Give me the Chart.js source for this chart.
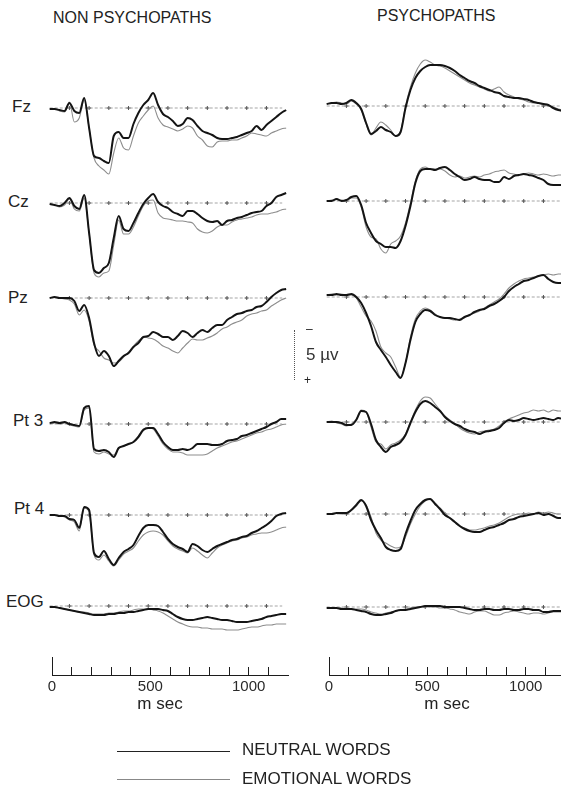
<!DOCTYPE html>
<html>
<head>
<meta charset="utf-8">
<title>ERPs to neutral and emotional words</title>
<script src="https://cdn.jsdelivr.net/npm/chart.js@4.4.1/dist/chart.umd.min.js"></script>
<style>
  html, body { margin: 0; padding: 0; background: #fff; }
  body {
    position: relative; width: 561px; height: 789px; overflow: hidden;
    font-family: "Liberation Sans", Arial, sans-serif; color: #222;
  }
  canvas { position: absolute; }
  .txt { position: absolute; white-space: nowrap; line-height: 20px; height: 20px; }
  .key { position: absolute; left: 117px; width: 113px; height: 0; }
</style>
</head>
<body>

<script>
// time axis (ms after word onset)
const timeMs = [0,25,50,75,100,125,150,175,200,225,250,275,300,325,350,375,400,425,450,475,
  500,525,550,575,600,625,650,675,700,725,750,775,800,825,850,875,900,925,950,975,
  1000,1025,1050,1075,1100,1125,1150,1175,1200];

const channelNames = ['Fz', 'Cz', 'Pz', 'Pt 3', 'Pt 4', 'EOG'];
const groupTitles = ['NON PSYCHOPATHS', 'PSYCHOPATHS'];
const seriesNames = ['NEUTRAL WORDS', 'EMOTIONAL WORDS'];
const baselineMarksMs = [100,200,300,400,500,600,700,800,900,1000,1100];
const axisLabelsMs = [0, 500, 1000];

// microvolts, negative up
const nonFzNeutral = [0.1,0.1,0.2,0.3,-0.5,0.3,0.5,-1.0,2.0,4.8, 5.0,5.3,5.5,2.8,2.4,3.0,3.0,1.6,0.5,-0.3,
  -0.8,-1.5,-0.3,0.6,0.9,1.3,1.8,1.6,1.0,1.2, 1.8,2.3,2.5,2.7,3.0,3.1,3.1,3.0,2.9,2.7, 2.5,2.3,1.8,2.2,1.7,1.3,0.9,0.5,0.2];
const nonFzEmotional = [0.1,0.1,0.3,0.4,-0.6,1.4,1.0,-0.8,2.0,5.0, 5.8,6.2,6.6,4.5,3.0,4.0,4.2,2.8,1.5,0.8,
  0.2,-0.2,1.0,1.7,1.9,2.1,2.3,2.1,1.8,2.0, 2.8,3.2,3.8,3.9,3.4,3.3,3.3,3.2,3.2,3.0, 2.8,2.5,2.6,2.7,2.8,2.5,2.3,2.1,2.0];
const nonCzNeutral = [0.1,0.2,0.3,0.0,-0.5,0.3,0.6,-0.8,3.0,6.7, 7.0,6.5,6.0,3.5,1.3,2.6,2.8,2.0,1.0,0.1,
  -0.5,-0.9,-0.1,0.3,0.5,0.9,1.1,1.3,0.8,0.8, 1.1,1.5,1.8,1.9,1.8,2.2,1.8,1.7,1.5,1.4, 1.2,1.0,0.9,0.8,0.3,0.0,-0.6,-0.8,-1.0];
const nonCzEmotional = [0.1,0.2,0.4,0.2,-0.4,0.6,0.8,-0.5,3.0,7.0, 7.4,7.0,6.8,4.2,1.7,3.1,3.1,2.4,1.3,0.3,
  -0.2,-0.3,1.0,1.5,1.6,1.7,1.8,1.8,1.9,2.0, 2.6,2.9,3.0,2.8,2.4,2.2,2.2,1.9,1.7,1.6, 1.5,1.4,1.2,1.1,1.1,1.0,0.9,0.7,0.6];
const nonPzNeutral = [0.0,-0.1,0.0,0.0,0.0,0.3,1.3,0.7,2.0,4.5, 5.8,5.3,5.8,6.8,6.3,5.8,5.5,4.9,4.5,3.9,
  3.8,3.4,3.6,3.9,3.9,4.2,3.8,3.3,3.5,3.9, 3.5,3.2,3.4,3.0,2.7,2.7,2.2,1.9,1.6,1.5, 1.3,1.2,0.9,0.8,0.4,-0.1,-0.5,-0.8,-0.9];
const nonPzEmotional = [0.0,-0.1,0.0,0.1,0.2,0.6,1.7,1.2,2.3,4.7, 5.3,6.0,6.2,6.5,6.4,5.9,5.4,4.8,4.3,3.9,
  4.0,4.1,4.4,4.8,5.0,5.3,5.5,5.0,4.5,4.1, 4.2,4.2,4.0,3.8,3.5,3.1,2.9,2.6,2.4,2.2, 1.8,1.6,1.5,1.3,1.2,0.8,0.5,0.2,0.0];
const nonPt3Neutral = [-0.1,-0.2,-0.1,-0.2,0.0,0.1,0.2,-1.6,-1.8,2.5, 2.7,2.6,2.8,3.3,2.4,2.2,2.0,1.8,1.3,0.6,
  0.4,0.4,1.0,1.8,2.3,2.6,2.6,2.5,2.6,2.4, 2.0,2.0,2.0,2.1,2.1,2.0,1.7,1.6,1.5,1.2, 1.1,0.9,0.7,0.5,0.3,0.0,-0.2,-0.5,-0.5];
const nonPt3Emotional = [0.0,-0.1,0.0,-0.1,0.1,0.2,0.3,-1.4,-1.6,2.8, 3.0,2.8,3.0,3.1,2.4,2.2,2.0,1.8,1.2,0.5,
  0.4,0.5,1.2,2.0,2.5,2.8,2.8,2.9,3.1,3.1, 3.1,3.1,3.0,2.7,2.4,2.2,2.0,1.8,1.7,1.5, 1.3,1.1,0.9,0.8,0.6,0.5,0.3,0.1,0.0];
const nonPt4Neutral = [0.0,0.0,0.1,0.1,0.4,0.5,1.3,-0.8,-0.5,3.8, 4.2,3.6,4.4,5.0,4.3,3.7,3.4,3.0,2.1,1.3,
  1.0,1.0,1.1,1.7,2.4,2.9,3.2,3.4,3.7,2.9, 3.1,3.5,3.7,3.4,3.1,2.9,2.7,2.5,2.4,2.2, 2.1,1.8,1.6,1.3,1.0,0.6,0.1,-0.1,-0.2];
const nonPt4Emotional = [0.0,0.0,0.1,0.2,0.5,0.7,1.6,-0.7,-0.3,4.0, 4.5,4.0,4.6,5.1,4.5,3.9,3.6,3.3,2.6,2.0,
  1.7,1.6,1.7,2.0,2.6,3.1,3.4,3.6,3.8,3.3, 3.6,4.0,4.3,3.8,3.3,3.0,2.8,2.6,2.5,2.3, 2.2,2.0,1.9,1.8,1.8,1.7,1.5,1.3,1.2];
const nonEogNeutral = [0.1,0.1,0.2,0.3,0.4,0.5,0.6,0.7,0.8,0.9, 0.9,0.9,0.8,0.8,0.7,0.7,0.6,0.6,0.5,0.4,
  0.3,0.3,0.3,0.4,0.5,0.8,1.1,1.3,1.4,1.4, 1.3,1.2,1.1,1.2,1.3,1.4,1.4,1.5,1.6,1.6, 1.6,1.5,1.4,1.3,1.1,1.0,0.9,0.8,0.8];
const nonEogEmotional = [0.1,0.1,0.2,0.3,0.4,0.5,0.6,0.6,0.7,0.8, 0.8,0.8,0.7,0.7,0.6,0.5,0.5,0.4,0.3,0.3,
  0.3,0.4,0.5,0.7,1.0,1.3,1.6,1.8,2.0,2.1, 2.1,2.2,2.2,2.3,2.3,2.3,2.4,2.4,2.4,2.3, 2.2,2.1,2.1,2.0,1.9,1.9,1.8,1.8,1.8];

const psyFzNeutral = [-0.2,-0.3,-0.3,-0.2,-0.3,-0.6,-0.3,0.3,1.7,2.8, 2.5,2.1,2.4,2.6,3.0,2.6,0.2,-1.6,-2.8,-3.5,
  -3.9,-4.1,-4.1,-4.1,-4.0,-3.8,-3.5,-3.1,-2.8,-2.5, -2.3,-2.0,-1.8,-1.6,-1.4,-1.3,-1.0,-0.9,-0.8,-0.8, -0.7,-0.6,-0.4,-0.3,-0.2,-0.1,0.2,0.4,0.5];
const psyFzEmotional = [-0.2,-0.3,-0.4,-0.3,-0.2,-0.5,-0.2,0.4,1.8,2.9, 2.2,1.6,1.9,2.4,3.0,2.5,0.0,-1.9,-3.3,-4.2,
  -4.6,-4.4,-4.1,-4.0,-3.8,-3.5,-3.2,-2.9,-2.6,-2.3, -2.1,-1.9,-1.7,-1.5,-1.7,-1.9,-1.4,-1.1,-0.9,-0.7, -0.6,-0.4,-0.3,-0.3,-0.1,0.0,0.1,0.3,0.4];
const psyCzNeutral = [0.0,0.0,-0.2,0.0,-0.1,-0.4,-0.5,0.4,2.2,3.2, 4.0,4.3,4.6,4.6,4.7,4.0,2.5,0.5,-1.8,-3.0,
  -3.2,-3.2,-3.1,-3.3,-3.4,-3.1,-2.7,-2.4,-2.1,-2.2, -2.4,-2.2,-2.1,-2.1,-1.9,-1.9,-2.4,-2.2,-2.5,-2.6, -2.7,-2.6,-2.5,-2.3,-2.1,-1.7,-1.6,-1.6,-1.6];
const psyCzEmotional = [0.0,-0.1,-0.2,-0.1,0.0,-0.3,-0.3,0.6,2.6,3.6, 3.8,4.8,5.2,4.3,4.0,3.5,2.2,0.2,-2.0,-3.2,
  -3.4,-3.2,-3.2,-3.2,-3.0,-2.6,-2.4,-2.5,-2.3,-2.4, -2.5,-2.4,-2.6,-2.7,-2.9,-3.0,-3.1,-2.8,-2.7,-2.6, -2.7,-2.8,-2.7,-2.6,-2.7,-2.6,-2.5,-2.6,-2.6];
const psyPzNeutral = [-0.2,-0.2,-0.3,-0.2,-0.2,-0.3,0.0,0.6,1.6,2.9, 4.5,5.3,6.0,6.8,7.5,8.1,6.6,4.3,2.5,1.7,
  1.3,1.4,1.8,2.0,2.1,2.1,2.2,2.3,2.0,1.8, 1.5,1.3,1.2,0.9,0.7,0.4,0.0,-0.6,-1.0,-1.3, -1.6,-1.7,-1.9,-2.1,-2.2,-1.8,-1.5,-1.4,-1.4];
const psyPzEmotional = [-0.2,-0.3,-0.2,-0.3,-0.2,-0.2,0.1,1.0,1.9,2.4, 3.4,5.0,5.6,6.0,7.0,8.0,6.6,4.0,2.2,1.4,
  1.1,1.3,1.7,2.0,2.1,2.2,2.3,2.2,2.0,1.8, 1.6,1.4,1.1,0.8,0.5,0.2,-0.3,-0.9,-1.3,-1.6, -1.8,-1.9,-2.0,-2.1,-2.2,-2.3,-2.2,-2.3,-2.3];
const psyPt3Neutral = [0.0,0.0,0.0,0.1,0.3,0.3,-0.2,-1.1,-1.0,0.2, 1.8,2.5,3.0,2.5,2.3,2.0,1.3,0.1,-1.0,-1.8,
  -2.1,-1.9,-1.5,-1.1,-0.5,-0.1,0.2,0.4,0.7,0.9, 1.0,1.2,1.0,0.9,0.8,0.6,0.1,-0.2,-0.1,-0.2, -0.4,-0.3,-0.2,-0.3,-0.4,-0.3,-0.2,-0.4,-0.3];
const psyPt3Emotional = [0.0,-0.1,0.1,0.2,0.4,0.2,-0.3,-1.2,-1.0,0.5, 2.0,2.2,2.7,2.3,2.1,1.8,1.2,0.0,-1.2,-2.1,
  -2.5,-2.4,-1.8,-1.2,-0.6,-0.2,0.2,0.6,0.9,1.1, 1.2,1.0,0.9,0.8,0.7,0.4,0.0,-0.3,-0.5,-0.7, -0.9,-1.0,-1.2,-1.1,-1.2,-1.0,-1.2,-1.1,-1.1];
const psyPt4Neutral = [0.0,0.0,-0.1,-0.1,-0.1,-0.4,-0.9,-1.4,-0.8,0.6, 1.6,2.4,3.3,3.6,3.7,3.5,2.0,0.7,-0.4,-1.0,
  -1.4,-1.5,-1.0,-0.5,0.1,0.4,0.8,1.2,1.5,1.7, 1.8,1.8,1.6,1.4,1.3,1.1,0.9,0.6,0.5,0.3, 0.2,0.1,0.0,-0.1,0.1,0.0,0.2,0.4,0.4];
const psyPt4Emotional = [0.0,0.0,-0.1,0.0,-0.1,-0.4,-0.8,-1.3,-0.9,0.3, 1.9,2.6,2.9,3.2,3.4,3.3,2.3,1.0,0.0,-0.8,
  -1.3,-1.5,-1.1,-0.6,-0.1,0.4,0.8,1.2,1.4,1.6, 1.6,1.5,1.4,1.2,1.1,0.9,0.6,0.3,0.1,0.0, 0.0,-0.1,0.0,-0.2,-0.1,-0.2,-0.1,0.0,0.0];
const psyEogNeutral = [0.1,0.1,0.1,0.2,0.2,0.2,0.3,0.4,0.5,0.7, 0.8,0.8,0.7,0.6,0.4,0.3,0.3,0.2,0.1,0.0,
  -0.1,-0.1,-0.1,-0.1,0.0,0.0,0.0,0.0,0.1,0.2, 0.3,0.3,0.2,0.2,0.3,0.3,0.2,0.2,0.3,0.3, 0.2,0.2,0.3,0.3,0.5,0.5,0.4,0.4,0.4];
const psyEogEmotional = [0.1,0.1,0.1,0.1,0.2,0.2,0.2,0.2,0.3,0.5, 0.6,0.7,0.6,0.5,0.4,0.3,0.2,0.1,0.0,0.0,
  -0.1,0.0,0.0,0.1,0.1,0.2,0.3,0.5,0.6,0.7, 0.5,0.4,0.4,0.6,0.8,0.8,0.6,0.5,0.4,0.5, 0.6,0.7,0.6,0.6,0.7,0.6,0.5,0.5,0.5];

// ---- layout ----
const PX_PER_MS = 0.197;
const X_MIN = -100, X_MAX = 1250;
const Y_TOP = -7, Y_BOTTOM = 9;     // 10 px per microvolt
const INK = '#1c1c1c';

const groups = [
  {
    zeroX: 50, baseY: [108, 203, 298, 424, 515, 606], lineEnd: 1180, axisZeroX: 52, mSecX: 160,
    rows: [[nonFzNeutral, nonFzEmotional], [nonCzNeutral, nonCzEmotional], [nonPzNeutral, nonPzEmotional],
           [nonPt3Neutral, nonPt3Emotional], [nonPt4Neutral, nonPt4Emotional], [nonEogNeutral, nonEogEmotional]]
  },
  {
    zeroX: 327, baseY: [106, 201, 297, 422, 514, 607], lineEnd: 1250, axisZeroX: 329, mSecX: 447,
    rows: [[psyFzNeutral, psyFzEmotional], [psyCzNeutral, psyCzEmotional], [psyPzNeutral, psyPzEmotional],
           [psyPt3Neutral, psyPt3Emotional], [psyPt4Neutral, psyPt4Emotional], [psyEogNeutral, psyEogEmotional]]
  }
];

Chart.defaults.font.family = '"Liberation Sans", Arial, sans-serif';
Chart.defaults.color = '#333';

function addCanvas(left, top, w, h) {
  const c = document.createElement('canvas');
  c.width = w; c.height = h;
  c.style.left = left + 'px'; c.style.top = top + 'px';
  document.body.appendChild(c);
  return c;
}

function addText(text, left, centerY, size, extra) {
  const d = document.createElement('div');
  d.className = 'txt';
  d.textContent = text;
  d.style.left = left + 'px';
  d.style.top = (centerY - 10) + 'px';
  d.style.fontSize = size + 'px';
  if (extra) Object.assign(d.style, extra);
  document.body.appendChild(d);
  return d;
}

function toPoints(values) {
  return timeMs.map((t, i) => ({ x: t, y: values[i] }));
}

function drawPanel(group, rowIdx) {
  const [neutral, emotional] = group.rows[rowIdx];
  const w = Math.round((X_MAX - X_MIN) * PX_PER_MS);
  const h = (Y_BOTTOM - Y_TOP) * 10;
  const left = Math.round(group.zeroX + X_MIN * PX_PER_MS);
  const top = group.baseY[rowIdx] + Y_TOP * 10;
  const canvas = addCanvas(left, top, w, h);

  const baseline = [{ x: 0, y: 0 }].concat(baselineMarksMs.map(t => ({ x: t, y: 0 })), [{ x: group.lineEnd, y: 0 }]);

  new Chart(canvas, {
    type: 'line',
    data: {
      datasets: [
        { label: seriesNames[0], data: toPoints(neutral), borderColor: '#141414', borderWidth: 2,
          pointRadius: 0, cubicInterpolationMode: 'monotone' },
        { label: seriesNames[1], data: toPoints(emotional), borderColor: '#8d8d8d', borderWidth: 1.1,
          pointRadius: 0, cubicInterpolationMode: 'monotone' },
        { label: 'baseline', data: baseline, borderColor: '#a5a5a5', borderWidth: 1, borderDash: [3, 2],
          pointStyle: 'cross', pointBorderColor: '#555', pointBorderWidth: 1,
          pointRadius: ctx => (ctx.raw && baselineMarksMs.includes(ctx.raw.x)) ? 2 : 0 }
      ]
    },
    options: {
      responsive: false, animation: false, events: [],
      layout: { padding: 0 },
      plugins: { legend: { display: false }, tooltip: { enabled: false } },
      scales: {
        x: { type: 'linear', display: false, min: X_MIN, max: X_MAX },
        y: { display: false, min: Y_TOP, max: Y_BOTTOM, reverse: true }
      }
    }
  });
}

function drawTimeAxis(group) {
  const padL = 20, padR = 10;
  const axisMax = 1200;
  const areaW = Math.round(axisMax * PX_PER_MS);
  const canvas = addCanvas(group.axisZeroX - padL, 657, areaW + padL + padR, 42);
  const majorOrNone = ctx => (ctx.tick && axisLabelsMs.includes(ctx.tick.value)) ? INK : 'rgba(0,0,0,0)';

  new Chart(canvas, {
    type: 'line',
    data: { datasets: [] },
    options: {
      responsive: false, animation: false, events: [],
      layout: { padding: { left: padL, right: padR, top: 0, bottom: 0 } },
      plugins: { legend: { display: false }, tooltip: { enabled: false } },
      scales: {
        x: {
          type: 'linear', position: 'bottom', min: 0, max: axisMax,
          grid: { drawOnChartArea: true, drawTicks: false, lineWidth: 1,
                  color: ctx => (ctx.tick && ctx.tick.value % 100 === 0 && ctx.tick.value < axisMax) ? INK : 'rgba(0,0,0,0)' },
          border: { display: true, color: INK, width: 1 },
          ticks: { stepSize: 100, autoSkip: false, maxRotation: 0, padding: 3, color: '#2a2a2a',
                   font: { size: 15 },
                   callback: v => axisLabelsMs.includes(v) ? String(v) : '' },
          afterFit: s => { s.height = 24; }
        },
        x2: {
          type: 'linear', position: 'top', min: 0, max: axisMax,
          grid: { drawOnChartArea: false, drawTicks: true, tickLength: 10, color: majorOrNone, tickColor: majorOrNone },
          border: { display: false },
          ticks: { stepSize: 500, display: false },
          afterFit: s => { s.height = 10; }
        },
        y: { display: false, min: 0, max: 1 }
      }
    }
  });

  addText('m sec', group.mSecX - 30, 704, 17, { width: '60px', textAlign: 'center' });
}

// titles
addText(groupTitles[0], 53, 18, 16);
addText(groupTitles[1], 377, 16, 16);

// channel labels
const labelPos = [[12, 107], [8, 202], [8, 298], [13, 421], [14, 509], [6, 602]];
channelNames.forEach((name, i) => addText(name, labelPos[i][0], labelPos[i][1], 17));

groups.forEach(g => {
  g.rows.forEach((_, i) => drawPanel(g, i));
  drawTimeAxis(g);
});

// 5 microvolt calibration bar (10 px per microvolt)
const bar = document.createElement('div');
Object.assign(bar.style, { position: 'absolute', left: '294px', top: '330px', height: '50px', width: '0',
  borderLeft: '1px dotted #555' });
document.body.appendChild(bar);
addText('\u2013', 306, 329, 12);
addText('+', 304, 380, 12);
addText('5 \u00b5v', 306, 355, 17, { color: '#333' });

// legend
const keyNeutral = document.createElement('div');
keyNeutral.className = 'key';
Object.assign(keyNeutral.style, { top: '751px', borderTop: '1.5px solid #222' });
document.body.appendChild(keyNeutral);
const keyEmotional = document.createElement('div');
keyEmotional.className = 'key';
Object.assign(keyEmotional.style, { top: '779px', borderTop: '1px solid #888' });
document.body.appendChild(keyEmotional);
addText(seriesNames[0], 242, 750, 17);
addText(seriesNames[1], 242, 779, 17);
</script>
</body>
</html>
